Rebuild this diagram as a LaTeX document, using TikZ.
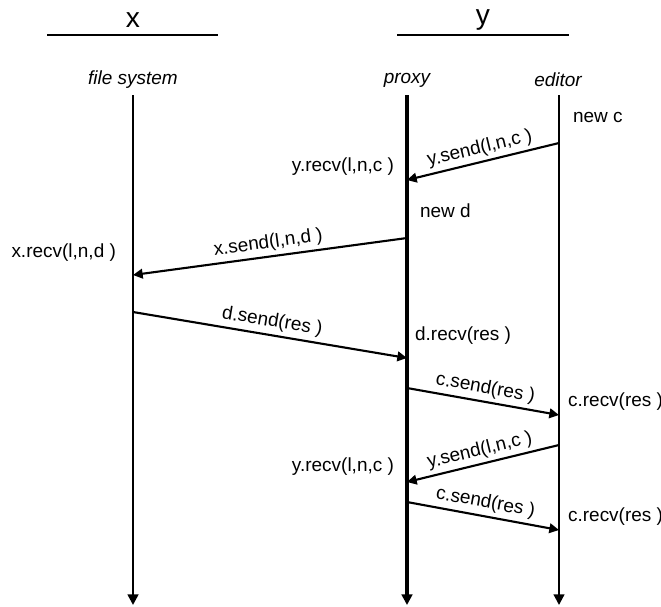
\documentclass[tikz,border=0pt]{standalone}
\usepackage{fontspec}
\setmainfont{Liberation Sans}
\usetikzlibrary{arrows.meta}

\begin{document}
\begin{tikzpicture}[
    x=0.02cm, y=-0.02cm,
    txt/.style={font=\fontsize{10.8}{13}\selectfont, inner sep=1pt},
    role/.style={font=\fontsize{10.8}{13}\selectfont\itshape, inner sep=1pt},
    head/.style={font=\fontsize{16}{18}\selectfont, inner sep=1pt},
    life/.style={-{Triangle[length=6pt,width=6pt]}, line width=1.4pt},
    msg/.style={-{Triangle[length=5.5pt,width=5.5pt]}, line width=1.2pt},
    lbl/.style={font=\fontsize{10.8}{13}\selectfont, inner sep=2pt, sloped, above}
]
\useasboundingbox (0,0) rectangle (661,606);

% Parties
\node[head] (hx) at (133,20) {x};
\node[head] (hy) at (483,20) {y};
\coordinate (hxl) at (47,35);  \coordinate (hxr) at (218,35);
\coordinate (hyl) at (397,35); \coordinate (hyr) at (569,35);
\draw[line width=0.7pt] (hxl) -- (hxr);
\draw[line width=0.7pt] (hyl) -- (hyr);

% Lifelines
\node[role] (fs) at (133,80) {file system};
\node[role] (px) at (407,80) {proxy};
\node[role] (ed) at (558,80) {editor};
\coordinate (fstop) at (133,95); \coordinate (fsbot) at (133,605);
\coordinate (pxtop) at (407,95); \coordinate (pxbot) at (407,605);
\coordinate (edtop) at (559,95); \coordinate (edbot) at (559,605);
\draw[life] (fstop) -- (fsbot);
\draw[life, line width=1.8pt] (pxtop) -- (pxbot);
\draw[life, line width=1.2pt] (edtop) -- (edbot);

% Events
\node[txt, anchor=west] (newc) at (571,117) {new c};
\node[txt, anchor=east] (recv1) at (396,167) {y.recv(l,n,c )};
\node[txt, anchor=west] (newd) at (418,211) {new d};
\node[txt, anchor=east] (recv2) at (118,253) {x.recv(l,n,d )};
\node[txt, anchor=west] (recv3) at (413,336) {d.recv(res )};
\node[txt, anchor=west] (recv4) at (566,402) {c.recv(res )};
\node[txt, anchor=east] (recv5) at (396,467) {y.recv(l,n,c )};
\node[txt, anchor=west] (recv6) at (566,517) {c.recv(res )};

% Message end points
\coordinate (e1) at (559,143); \coordinate (p1) at (407,180);
\coordinate (p2) at (407,238); \coordinate (f2) at (133,275);
\coordinate (f3) at (133,312); \coordinate (p3) at (407,358);
\coordinate (p4) at (407,388); \coordinate (e4) at (559,415);
\coordinate (e5) at (559,445); \coordinate (p5) at (407,482);
\coordinate (p6) at (407,502); \coordinate (e6) at (559,530);

% Messages
\draw[msg] (e1) -- node[lbl] {y.send(l,n,c )} (p1);
\draw[msg] (p2) -- node[lbl] {x.send(l,n,d )} (f2);
\draw[msg] (f3) -- node[lbl] {d.send(res )} (p3);
\draw[msg] (p4) -- node[lbl] {c.send(res )} (e4);
\draw[msg] (e5) -- node[lbl] {y.send(l,n,c )} (p5);
\draw[msg] (p6) -- node[lbl] {c.send(res )} (e6);

\end{tikzpicture}
\end{document}
